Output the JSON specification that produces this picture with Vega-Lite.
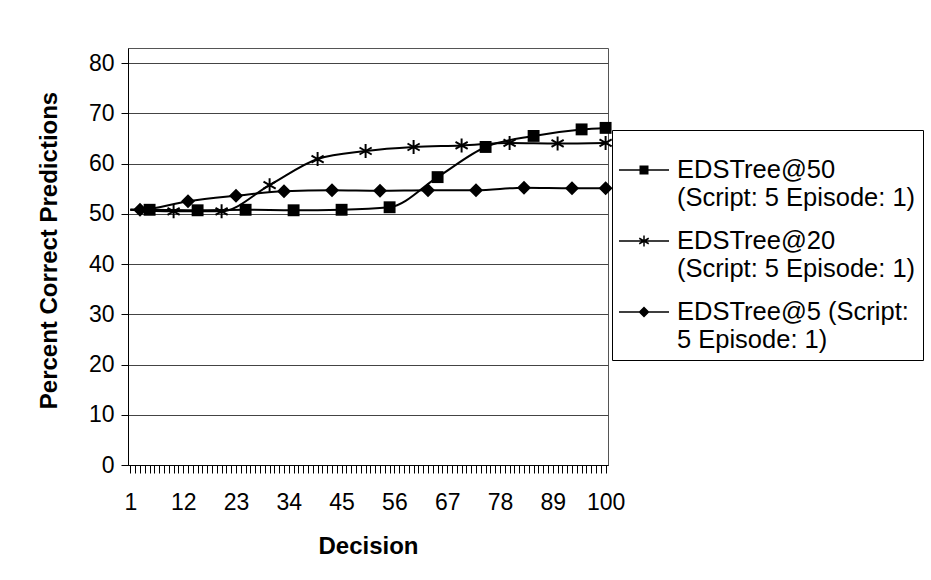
{
  "$schema": "https://vega.github.io/schema/vega-lite/v6.json",
  "width": 480,
  "height": 417,
  "autosize": {"type": "none"},
  "padding": {"left": 128, "top": 48, "right": 323, "bottom": 115},
  "background": "white",
  "config": {
    "view": {"stroke": "#555", "strokeWidth": 1},
    "font": "Liberation Sans"
  },
  "data": {
    "values": [
      {"series": "EDSTree@50", "decision": 1, "value": 50.8},
      {"series": "EDSTree@50", "decision": 5, "value": 50.8},
      {"series": "EDSTree@50", "decision": 15, "value": 50.7},
      {"series": "EDSTree@50", "decision": 25, "value": 50.8},
      {"series": "EDSTree@50", "decision": 35, "value": 50.7},
      {"series": "EDSTree@50", "decision": 45, "value": 50.8},
      {"series": "EDSTree@50", "decision": 55, "value": 51.3},
      {"series": "EDSTree@50", "decision": 65, "value": 57.3},
      {"series": "EDSTree@50", "decision": 75, "value": 63.3},
      {"series": "EDSTree@50", "decision": 85, "value": 65.5},
      {"series": "EDSTree@50", "decision": 95, "value": 66.8},
      {"series": "EDSTree@50", "decision": 100, "value": 67.1},
      {"series": "EDSTree@20", "decision": 1, "value": 50.8},
      {"series": "EDSTree@20", "decision": 10, "value": 50.5},
      {"series": "EDSTree@20", "decision": 20, "value": 50.5},
      {"series": "EDSTree@20", "decision": 30, "value": 55.7},
      {"series": "EDSTree@20", "decision": 40, "value": 60.9},
      {"series": "EDSTree@20", "decision": 50, "value": 62.5},
      {"series": "EDSTree@20", "decision": 60, "value": 63.3},
      {"series": "EDSTree@20", "decision": 70, "value": 63.6},
      {"series": "EDSTree@20", "decision": 80, "value": 64.1},
      {"series": "EDSTree@20", "decision": 90, "value": 64.0},
      {"series": "EDSTree@20", "decision": 100, "value": 64.1},
      {"series": "EDSTree@5", "decision": 1, "value": 50.8},
      {"series": "EDSTree@5", "decision": 3, "value": 50.8},
      {"series": "EDSTree@5", "decision": 13, "value": 52.5},
      {"series": "EDSTree@5", "decision": 23, "value": 53.6},
      {"series": "EDSTree@5", "decision": 33, "value": 54.5},
      {"series": "EDSTree@5", "decision": 43, "value": 54.7},
      {"series": "EDSTree@5", "decision": 53, "value": 54.6},
      {"series": "EDSTree@5", "decision": 63, "value": 54.7},
      {"series": "EDSTree@5", "decision": 73, "value": 54.7},
      {"series": "EDSTree@5", "decision": 83, "value": 55.2},
      {"series": "EDSTree@5", "decision": 93, "value": 55.1},
      {"series": "EDSTree@5", "decision": 100, "value": 55.1}
    ]
  },
  "encoding": {
    "x": {
      "field": "decision",
      "type": "ordinal",
      "scale": {
        "domain": [1,2,3,4,5,6,7,8,9,10,11,12,13,14,15,16,17,18,19,20,21,22,23,24,25,26,27,28,29,30,31,32,33,34,35,36,37,38,39,40,41,42,43,44,45,46,47,48,49,50,51,52,53,54,55,56,57,58,59,60,61,62,63,64,65,66,67,68,69,70,71,72,73,74,75,76,77,78,79,80,81,82,83,84,85,86,87,88,89,90,91,92,93,94,95,96,97,98,99,100],
        "paddingInner": 0,
        "paddingOuter": 0
      },
      "axis": {
        "title": "Decision",
        "titleFont": "Liberation Sans",
        "titleFontSize": 24,
        "titleFontWeight": "bold",
        "titleColor": "black",
        "titlePadding": 20,
        "labelFont": "Liberation Sans",
        "labelFontSize": 23,
        "labelColor": "black",
        "labelAngle": 0,
        "labelExpr": "(datum.value - 1) % 11 == 0 ? datum.label : ''",
        "labelOverlap": false,
        "labelBound": false,
        "labelPadding": 18,
        "tickSize": 8,
        "tickColor": "black",
        "tickWidth": 1,
        "domainColor": "black",
        "domainWidth": 1,
        "grid": false
      }
    },
    "y": {
      "field": "value",
      "type": "quantitative",
      "scale": {"domain": [0, 83], "nice": false, "zero": true},
      "axis": {
        "title": "Percent Correct Predictions",
        "titleFont": "Liberation Sans",
        "titleFontSize": 24,
        "titleFontWeight": "bold",
        "titleColor": "black",
        "titlePadding": 27,
        "titleY": 202,
        "values": [0, 10, 20, 30, 40, 50, 60, 70, 80],
        "labelFont": "Liberation Sans",
        "labelFontSize": 23,
        "labelColor": "black",
        "labelPadding": 7,
        "tickSize": 7,
        "tickColor": "black",
        "domainColor": "black",
        "grid": true,
        "gridColor": "#444",
        "gridWidth": 1
      }
    }
  },
  "layer": [
    {
      "mark": {"type": "line", "color": "black", "strokeWidth": 2, "interpolate": "monotone"},
      "encoding": {"detail": {"field": "series", "type": "nominal"}}
    },
    {
      "transform": [
        {"filter": "(datum.series == 'EDSTree@50' && (datum.decision % 10 == 5 || datum.decision == 100)) || (datum.series == 'EDSTree@20' && datum.decision % 10 == 0) || (datum.series == 'EDSTree@5' && (datum.decision % 10 == 3 || datum.decision == 100))"}
      ],
      "mark": {"type": "point", "filled": true, "fill": "black", "strokeWidth": 0, "size": 196, "opacity": 1, "fillOpacity": 1},
      "encoding": {
        "shape": {
          "field": "series",
          "type": "nominal",
          "scale": {
            "domain": ["EDSTree@50", "EDSTree@20", "EDSTree@5"],
            "range": [
              "M-0.85,-0.85H0.85V0.85H-0.85Z",
              "M-0.14,-1H0.14V1H-0.14ZM-0.94,-0.379L-0.8,-0.621L0.94,0.379L0.8,0.621ZM-0.8,0.621L-0.94,0.379L0.8,-0.621L0.94,-0.379Z",
              "M0,-1L1,0L0,1L-1,0Z"
            ]
          },
          "legend": null
        }
      }
    },
    {
      "transform": [
        {"filter": "(datum.series == 'EDSTree@50' && (datum.decision % 10 == 5 || datum.decision == 100)) || (datum.series == 'EDSTree@20' && datum.decision % 10 == 0) || (datum.series == 'EDSTree@5' && (datum.decision % 10 == 3 || datum.decision == 100))"}
      ],
      "mark": {"type": "point", "filled": true, "fill": "black", "opacity": 0},
      "encoding": {
        "shape": {
          "field": "series",
          "type": "nominal",
          "scale": {
            "domain": ["EDSTree@50", "EDSTree@20", "EDSTree@5"],
            "range": [
              "M-1,-0.03H1V0.03H-1ZM-0.18,-0.18H0.18V0.18H-0.18Z",
              "M-1,-0.03H1V0.03H-1ZM-0.03,-0.22H0.03V0.22H-0.03ZM-0.205,-0.084L-0.175,-0.136L0.205,0.084L0.175,0.136ZM-0.175,0.136L-0.205,0.084L0.175,-0.136L0.205,-0.084Z",
              "M-1,-0.03H1V0.03H-1ZM0,-0.22L0.22,0L0,0.22L-0.22,0Z"
            ]
          },
          "legend": {
            "title": " ",
            "titleFontSize": 8,
            "titlePadding": 0,
            "orient": "none",
            "legendX": 484,
            "legendY": 82,
            "labelExpr": "datum.label == 'EDSTree@50' ? ['EDSTree@50', '(Script: 5 Episode: 1)'] : datum.label == 'EDSTree@20' ? ['EDSTree@20', '(Script: 5 Episode: 1)'] : ['EDSTree@5 (Script:', '5 Episode: 1)']",
            "labelFont": "Liberation Sans",
            "labelFontSize": 25.5,
            "labelColor": "black",
            "labelLimit": 500,
            "labelOffset": 8,
            "labelBaseline": "middle",
            "symbolSize": 2500,
            "symbolFillColor": "black",
            "symbolStrokeWidth": 0,
            "symbolOpacity": 1,
            "strokeColor": "black",
            "fillColor": "white",
            "padding": 7,
            "rowPadding": 5
          }
        }
      }
    }
  ],
  "resolve": {"scale": {"shape": "independent"}}
}
